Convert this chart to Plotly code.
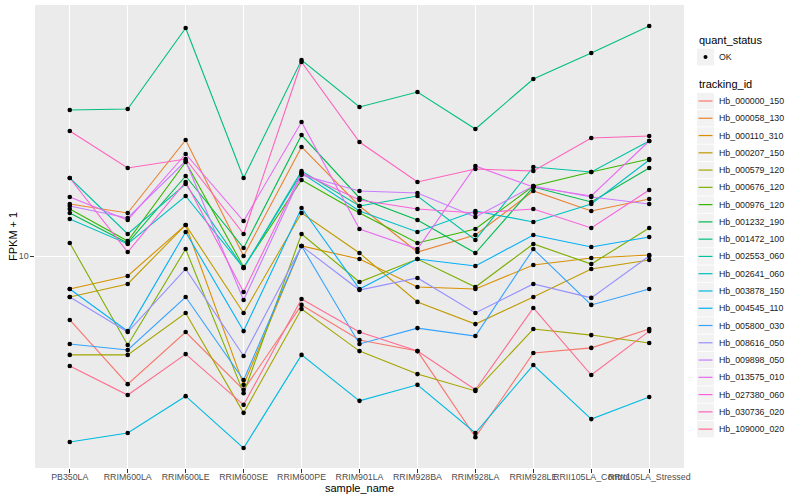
import plotly.graph_objects as go

sample_names = ["PB350LA", "RRIM600LA", "RRIM600LE", "RRIM600SE", "RRIM600PE",
                "RRIM901LA", "RRIM928BA", "RRIM928LA", "RRIM928LE",
                "RRII105LA_Control", "RRII105LA_Stressed"]

tracking_ids = ["Hb_000000_150", "Hb_000058_130", "Hb_000110_310", "Hb_000207_150",
                "Hb_000579_120", "Hb_000676_120", "Hb_000976_120", "Hb_001232_190",
                "Hb_001472_100", "Hb_002553_060", "Hb_002641_060", "Hb_003878_150",
                "Hb_004545_110", "Hb_005800_030", "Hb_008616_050", "Hb_009898_050",
                "Hb_013575_010", "Hb_027380_060", "Hb_030736_020", "Hb_109000_020"]

quant_status = ["OK"]

# FPKM + 1 per sample (order of sample_names)
hb_000000_150 = [6.12, 3.74, 5.58, 3.58, 6.87, 5.25, 4.82, 2.49, 4.75, 4.94, 5.71]
hb_000058_130 = [14.90, 13.91, 24.36, 10.00, 23.09, 14.68, 10.31, 11.75, 16.47, 14.13, 15.49]
hb_000110_310 = [7.76, 8.58, 12.69, 3.72, 10.80, 9.77, 7.88, 7.76, 9.33, 9.85, 10.08]
hb_000207_150 = [7.30, 8.07, 12.69, 6.46, 13.91, 10.23, 7.03, 5.93, 7.30, 9.05, 9.70]
hb_000579_120 = [4.68, 4.68, 6.46, 3.00, 6.66, 4.82, 4.04, 3.55, 5.71, 5.45, 5.13]
hb_000676_120 = [11.05, 5.05, 10.55, 3.49, 11.84, 8.19, 9.77, 7.88, 10.97, 9.40, 12.40]
hb_000976_120 = [14.34, 11.22, 20.58, 9.19, 17.92, 13.91, 11.05, 12.30, 17.11, 19.06, 21.05]
hb_001232_190 = [13.91, 11.05, 18.48, 10.63, 25.31, 15.61, 13.18, 10.23, 16.98, 15.14, 19.65]
hb_001472_100 = [30.67, 30.90, 57.55, 18.20, 45.01, 31.38, 35.21, 26.51, 38.91, 47.50, 58.43]
hb_002553_060 = [18.20, 11.84, 17.38, 9.12, 19.20, 14.68, 15.85, 11.31, 19.80, 19.06, 24.17]
hb_002641_060 = [13.28, 10.97, 15.85, 9.12, 18.91, 14.13, 12.02, 14.13, 12.98, 14.90, 20.89]
hb_003878_150 = [2.40, 2.57, 3.41, 2.29, 4.68, 3.29, 3.72, 2.57, 4.33, 2.86, 3.39]
hb_004545_110 = [7.76, 5.62, 12.02, 5.62, 14.45, 7.76, 9.77, 9.26, 11.75, 10.72, 11.57]
hb_005800_030 = [5.09, 4.86, 7.30, 3.86, 10.80, 5.09, 5.75, 5.41, 10.55, 6.87, 7.76]
hb_008616_050 = [7.30, 5.58, 9.05, 4.64, 10.80, 7.70, 8.45, 6.46, 8.07, 7.25, 10.00]
hb_009898_050 = [14.68, 13.39, 20.73, 7.13, 18.62, 16.47, 16.22, 13.49, 17.11, 15.73, 14.90]
hb_013575_010 = [15.73, 13.18, 21.88, 13.08, 27.97, 12.30, 10.55, 19.95, 16.98, 15.85, 24.17]
hb_027380_060 = [18.20, 10.31, 17.65, 7.59, 18.91, 15.37, 14.34, 13.91, 14.34, 12.40, 16.60]
hb_030736_020 = [26.10, 19.65, 21.05, 11.84, 44.33, 23.99, 17.65, 19.50, 19.20, 24.74, 25.12]
hb_109000_020 = [4.30, 3.44, 4.71, 3.19, 7.19, 5.58, 4.82, 3.58, 6.71, 4.01, 5.62]

series = [hb_000000_150, hb_000058_130, hb_000110_310, hb_000207_150, hb_000579_120,
          hb_000676_120, hb_000976_120, hb_001232_190, hb_001472_100, hb_002553_060,
          hb_002641_060, hb_003878_150, hb_004545_110, hb_005800_030, hb_008616_050,
          hb_009898_050, hb_013575_010, hb_027380_060, hb_030736_020, hb_109000_020]

colors = ["#F8766D", "#EA8331", "#D89000", "#C09B00", "#A3A500", "#7CAE00", "#39B600",
          "#00BB4E", "#00BF7D", "#00C1A3", "#00BFC4", "#00BAE0", "#00B0F6", "#35A2FF",
          "#9590FF", "#C77CFF", "#E76BF3", "#FA62DB", "#FF62BC", "#FF6C91"]

FONT = "Liberation Sans, Arial, sans-serif"

fig = go.Figure()
for tid, vals, col in zip(tracking_ids, series, colors):
    fig.add_trace(go.Scatter(x=sample_names, y=vals, mode="lines", name=tid,
                             line=dict(color=col, width=1.1), showlegend=False))

px_all, py_all = [], []
for vals in series:
    px_all += sample_names
    py_all += vals
fig.add_trace(go.Scatter(x=px_all, y=py_all, mode="markers", name=quant_status[0],
                         marker=dict(color="black", size=4.6, symbol="circle"),
                         showlegend=False))

# panel geometry in pixels
L, R, T, B = 35, 684, 5, 468
W, H = R - L, B - T


def fx(p):
    return (p - L) / W


def fy(p):
    return (B - p) / H


shapes = []
annotations = []


def label(x, y, text, size, color, xanchor="left", angle=0):
    annotations.append(dict(x=fx(x), y=fy(y), xref="paper", yref="paper",
                            xanchor=xanchor, yanchor="middle", text=text,
                            showarrow=False, textangle=angle,
                            font=dict(size=size, color=color, family=FONT)))


# axis titles
label(359.5, 488, "sample_name", 11, "black", xanchor="center")
label(12.5, 236.5, "FPKM + 1", 11, "black", xanchor="center", angle=-90)

# legend: quant_status
kx0, kx1 = 697, 714
label(kx0, 40, "quant_status", 11, "black")
shapes.append(dict(type="rect", xref="paper", yref="paper", x0=fx(kx0), x1=fx(kx1),
                   y0=fy(48.5), y1=fy(65.5), fillcolor="#F2F2F2", line=dict(width=0)))
shapes.append(dict(type="circle", xref="paper", yref="paper", x0=fx(703.5), x1=fx(707.5),
                   y0=fy(55), y1=fy(59), fillcolor="black", line=dict(width=0)))
label(717, 57, quant_status[0], 8.8, "#1A1A1A")

# legend: tracking_id
label(kx0, 84, "tracking_id", 11, "black")
step = 17.27
for i, (tid, col) in enumerate(zip(tracking_ids, colors)):
    cy = 101 + i * step
    shapes.append(dict(type="rect", xref="paper", yref="paper", x0=fx(kx0), x1=fx(kx1),
                       y0=fy(cy - 8.2), y1=fy(cy + 8.2), fillcolor="#F2F2F2",
                       line=dict(width=0)))
    shapes.append(dict(type="line", xref="paper", yref="paper", x0=fx(698.5), x1=fx(712.5),
                       y0=fy(cy), y1=fy(cy), line=dict(color=col, width=1.2)))
    label(717, cy, tid, 8.8, "#1A1A1A")

fig.update_layout(
    width=800, height=500,
    margin=dict(l=L, r=800 - R, t=T, b=500 - B),
    paper_bgcolor="white", plot_bgcolor="#EBEBEB",
    font=dict(family=FONT),
    shapes=shapes, annotations=annotations,
    showlegend=False,
)
fig.update_xaxes(type="category", categoryorder="array", categoryarray=sample_names,
                 range=[-0.6, 10.6], showgrid=True, gridcolor="white", gridwidth=1.1,
                 zeroline=False, ticks="outside", ticklen=3.7, tickcolor="#333333",
                 tickwidth=1, tickangle=0, tickfont=dict(size=8.8, color="#4D4D4D"),
                 showline=False, automargin=False, ticklabelstandoff=-3)
fig.update_yaxes(type="log", range=[0.2933, 1.8367], tickvals=[10], ticktext=["10"],
                 showgrid=True, gridcolor="white", gridwidth=1.1, zeroline=False,
                 ticks="outside", ticklen=3.7, tickcolor="#333333", tickwidth=1,
                 tickfont=dict(size=8.8, color="#4D4D4D"), showline=False,
                 automargin=False)

fig.write_html("out.html", config={"displayModeBar": False},
               post_script="document.body.style.margin='0px';document.body.style.padding='0px';")
